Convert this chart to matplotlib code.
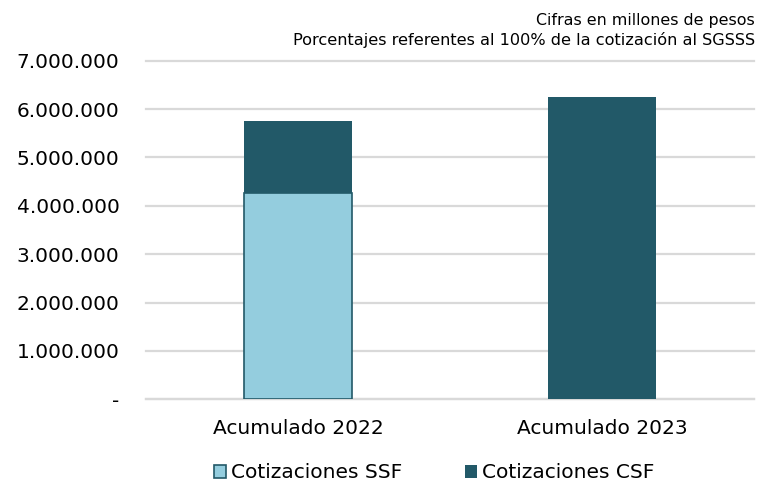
import numpy as np
import matplotlib.pyplot as plt
from matplotlib.ticker import FuncFormatter

# data (millones de pesos)
categorias = ["Acumulado 2022", "Acumulado 2023"]
cot_ssf = [4270000, 0]
cot_csf = [1485000, 6250000]
yticks = [0, 1000000, 2000000, 3000000, 4000000, 5000000, 6000000, 7000000]

LIGHT = "#94CDDE"
DARK = "#225968"
GRID = "#D9D9D9"

fig = plt.figure(figsize=(7.57, 4.86), dpi=100)
ax = fig.add_axes([146 / 757, 86.7 / 486, 608 / 757, 338.6 / 486])

x = np.array([0.5, 1.5])
w = 0.355

ax.bar(x, cot_ssf, width=w, color=LIGHT, edgecolor=DARK, linewidth=1.2,
       label="Cotizaciones SSF", zorder=3)
ax.bar(x, cot_csf, width=w, bottom=cot_ssf, color=DARK, edgecolor=DARK,
       linewidth=0, label="Cotizaciones CSF", zorder=3)

ax.set_xlim(0, 2)
ax.set_ylim(0, 7000000)
ax.set_yticks(yticks)


def fmt(v, pos):
  if v == 0:
    return "-"
  return f"{int(v):,}".replace(",", ".")


ax.yaxis.set_major_formatter(FuncFormatter(fmt))
ax.set_xticks(x)
ax.set_xticklabels(categorias)

ax.grid(axis="y", color=GRID, linewidth=1.6, zorder=0)
for gl in ax.get_ygridlines():
  gl.set_clip_on(False)
for s in ["top", "right", "left"]:
  ax.spines[s].set_visible(False)
ax.spines["bottom"].set_color(GRID)
ax.spines["bottom"].set_linewidth(1.6)

ax.tick_params(axis="y", length=0, pad=19, labelsize=14.5, labelcolor="#000000")
ax.tick_params(axis="x", length=0, pad=14, labelsize=14.5, labelcolor="#000000")

fig.text(0.997, 0.958, "Cifras en millones de pesos", ha="right", va="center",
         fontsize=11.4)
fig.text(0.997, 0.917, "Porcentajes referentes al 100% de la cotización al SGSSS",
         ha="right", va="center", fontsize=11.6)

leg = fig.legend(loc="center", bbox_to_anchor=(0.574, 0.027), ncol=2, frameon=False,
                 fontsize=14.5, handlelength=0.6, handleheight=0.6,
                 handletextpad=0.25, columnspacing=3.1)

fig.savefig("out.png", dpi=100)
